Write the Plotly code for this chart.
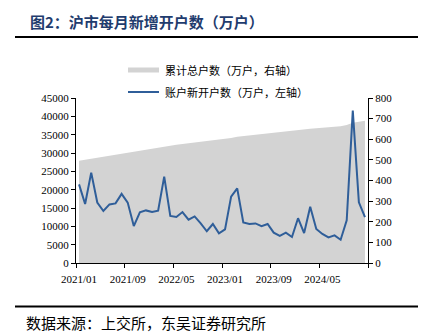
import plotly.graph_objects as go

# ---- data ----
months = [f"{y}/{m:02d}" for y in range(2021, 2025) for m in range(1, 13)]
new_accounts = [381, 286, 438, 293, 252, 284, 289, 335, 293, 179, 246, 255,
                247, 254, 419, 228, 223, 247, 210, 226, 192, 154, 189, 144,
                163, 322, 362, 197, 189, 192, 179, 189, 147, 131, 147, 126,
                217, 145, 273, 165, 141, 124, 134, 113, 207, 739, 294, 223]
total_accounts = [27910, 28195, 28480, 28765, 29050, 29340, 29625, 29910, 30195, 30480, 30765, 31050,
                  31340, 31625, 31910, 32090, 32275, 32455, 32635, 32820, 33000, 33180, 33365, 33545,
                  33730, 34090, 34455, 34645, 34835, 35025, 35220, 35420, 35610, 35800, 35990, 36180,
                  36320, 36455, 36590, 36730, 36865, 37000, 37135, 37275, 37635, 38275, 38545, 38820]
tick_every = 8
title_text = "图2：沪市每月新增开户数（万户）"
source_text = "数据来源：上交所，东吴证券研究所"
legend_area = "累计总户数（万户，右轴）"
legend_line = "账户新开户数（万户，左轴）"

W, H = 425, 335
L, R, T, B = 76, 368, 98, 263

def px2x(px):
    return (px - L) / (R - L)

def px2y(py):
    return (B - py) / (B - T)

idx = list(range(len(months)))
line_color = "#2F5E99"
area_color = "#D3D3D3"
serif = "Times New Roman, Liberation Serif, serif"
cjk = "Noto Sans CJK SC"

fig = go.Figure()
fig.add_trace(go.Scatter(x=idx, y=total_accounts, mode="lines", fill="tozeroy",
                         fillcolor=area_color, line=dict(width=0, color=area_color),
                         yaxis="y", showlegend=False, hoverinfo="skip"))
fig.add_trace(go.Scatter(x=idx, y=new_accounts, mode="lines",
                         line=dict(width=2, color=line_color),
                         yaxis="y2", showlegend=False))

major = list(range(0, len(months), tick_every))
bounds = [i - 0.5 for i in range(0, len(months) + 1, tick_every)]

axis_font = dict(family=serif, size=11, color="#000")
fig.update_layout(
    width=W, height=H,
    margin=dict(l=L, r=W - R, t=T, b=H - B, autoexpand=False),
    paper_bgcolor="white", plot_bgcolor="white",
    xaxis=dict(range=[-0.5, len(months) - 0.5], tickmode="array", tickvals=major,
               ticktext=[months[i] for i in major], ticks="", showline=True,
               linecolor="#000", linewidth=1, showgrid=False, zeroline=False,
               tickfont=axis_font, ticklabelstandoff=6,
               minor=dict(tickmode="array", tickvals=bounds, ticks="outside",
                          ticklen=4, tickcolor="#000", tickwidth=1, showgrid=False)),
    yaxis=dict(range=[0, 45000], dtick=5000, tick0=0, tickformat="d", ticks="outside", ticklen=4,
               tickcolor="#000", showline=True, linecolor="#000", linewidth=1,
               showgrid=False, zeroline=False, tickfont=axis_font),
    yaxis2=dict(range=[0, 800], dtick=100, tick0=0, tickformat="d", overlaying="y", side="right",
                ticks="outside", ticklen=4, tickcolor="#000", showline=True,
                linecolor="#000", linewidth=1, showgrid=False, zeroline=False,
                tickfont=axis_font),
    showlegend=False,
)

shapes = [
    dict(type="line", xref="paper", yref="paper", x0=px2x(15), x1=px2x(418),
         y0=px2y(37), y1=px2y(37), line=dict(color="#000", width=2)),
    dict(type="line", xref="paper", yref="paper", x0=px2x(15), x1=px2x(418),
         y0=px2y(306.5), y1=px2y(306.5), line=dict(color="#000", width=2)),
    dict(type="rect", xref="paper", yref="paper", x0=px2x(128), x1=px2x(159),
         y0=px2y(72.5), y1=px2y(67.5), fillcolor=area_color, line=dict(width=0)),
    dict(type="line", xref="paper", yref="paper", x0=px2x(128), x1=px2x(159),
         y0=px2y(92), y1=px2y(92), line=dict(color=line_color, width=2)),
]
annotations = [
    dict(text=f"<b>{title_text}</b>", xref="paper", yref="paper", x=px2x(28), y=px2y(22),
         xanchor="left", yanchor="middle", showarrow=False,
         font=dict(family=cjk, size=15, color="#1F3C6E")),
    dict(text=source_text, xref="paper", yref="paper", x=px2x(24), y=px2y(322),
         xanchor="left", yanchor="middle", showarrow=False,
         font=dict(family=cjk, size=15, color="#000")),
    dict(text=legend_area, xref="paper", yref="paper", x=px2x(163), y=px2y(70),
         xanchor="left", yanchor="middle", showarrow=False,
         font=dict(family=cjk, size=11, color="#000")),
    dict(text=legend_line, xref="paper", yref="paper", x=px2x(163), y=px2y(92),
         xanchor="left", yanchor="middle", showarrow=False,
         font=dict(family=cjk, size=11, color="#000")),
]
fig.update_layout(shapes=shapes, annotations=annotations)

fig.write_html("out.html")
